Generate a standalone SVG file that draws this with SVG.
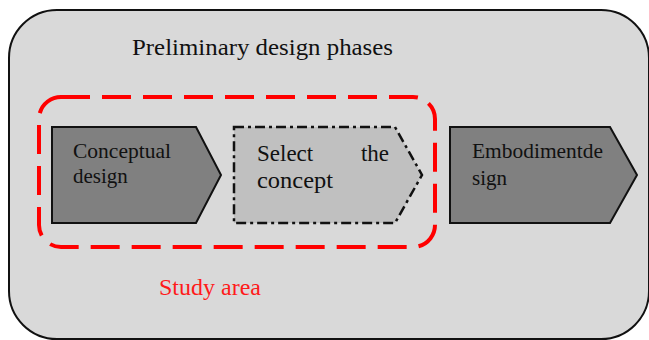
<svg xmlns="http://www.w3.org/2000/svg" width="649" height="340" viewBox="0 0 649 340">
<style>
text{font-family:"Times New Roman","Liberation Serif",Tinos,"DejaVu Serif",serif;fill:#111}
.dark{fill:#808080;stroke:#111;stroke-width:2}
.light{fill:#c0c0c0;stroke:#111;stroke-width:2.5;stroke-dasharray:10 4 3 4}
</style>
<rect width="649" height="340" fill="#ffffff"/>
<g id="preliminary-phases">
<rect x="9" y="10" width="640" height="329" rx="48" ry="48" fill="#d9d9d9" stroke="#111" stroke-width="2"/>
<text x="132" y="55" font-size="23" textLength="261" lengthAdjust="spacingAndGlyphs">Preliminary design phases</text>
</g>
<g id="study-area">
<rect x="39" y="97" width="396" height="150" rx="22" ry="22" fill="none" stroke="#ff0000" stroke-width="4" stroke-dasharray="29 12"/>
<text x="159" y="295" font-size="23" style="fill:#ff1a1a" textLength="102" lengthAdjust="spacingAndGlyphs">Study area</text>
</g>
<g id="conceptual-design">
<polygon class="dark" points="52,127 196,127 221,175 196,223 52,223"/>
<text x="73" y="158" font-size="21" textLength="98" lengthAdjust="spacingAndGlyphs">Conceptual</text>
<text x="73" y="183" font-size="21">design</text>
</g>
<g id="select-concept">
<polygon class="light" points="234,127 395,127 422,175 395,223 234,223"/>
<text x="257" y="161" font-size="23">Select</text>
<text x="389" y="161" font-size="23" text-anchor="end">the</text>
<text x="257" y="188" font-size="23" textLength="76" lengthAdjust="spacingAndGlyphs">concept</text>
</g>
<g id="embodiment-design">
<polygon class="dark" points="450,127 610,127 637,175 610,223 450,223"/>
<text x="472" y="158" font-size="21" textLength="131" lengthAdjust="spacingAndGlyphs">Embodimentde</text>
<text x="472" y="185" font-size="21">sign</text>
</g>
</svg>
